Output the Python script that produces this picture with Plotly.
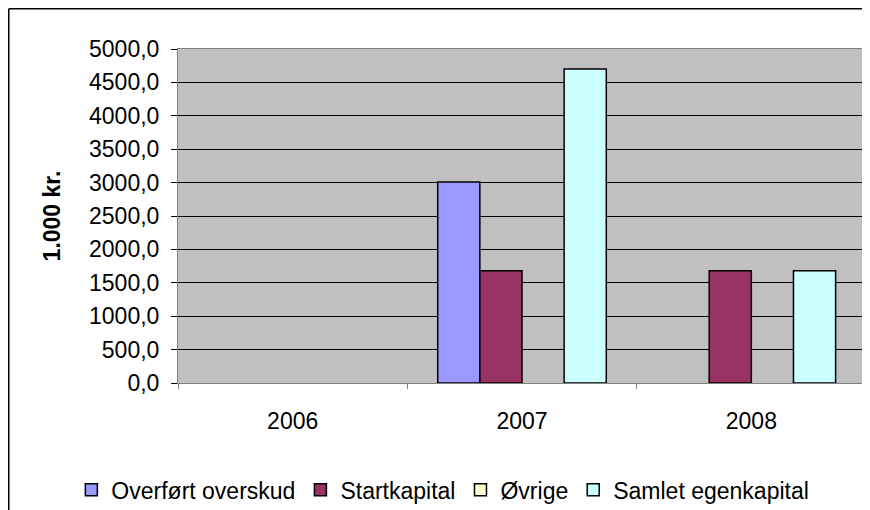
import plotly.graph_objects as go

aar = ["2006", "2007", "2008"]
overfoert = [None, 3010, None]
startkapital = [None, 1680, 1680]
oevrige = [None, None, None]
samlet = [None, 4700, 1680]

serier = [
    ("Overført overskud", overfoert, "#9999FF"),
    ("Startkapital", startkapital, "#993366"),
    ("Øvrige", oevrige, "#FFFFCC"),
    ("Samlet egenkapital", samlet, "#CCFFFF"),
]

fig = go.Figure()
for navn, vals, farve in serier:
    fig.add_trace(go.Bar(x=aar, y=vals, name=navn,
                         marker=dict(color=farve, line=dict(color="black", width=1.5))))

# siden har 8px body-margin, så figuren gøres 8px mindre
fig.update_layout(
    width=862, height=502,
    margin=dict(l=170, r=4, t=41, b=127, autoexpand=False),
    paper_bgcolor="white", plot_bgcolor="#C0C0C0",
    font=dict(family="Liberation Sans, Arial", size=23, color="black"),
    separators=",.",
    barmode="group", bargap=0.265, bargroupgap=0,
    legend=dict(orientation="h", x=-0.155, xanchor="left", y=-0.32, yanchor="middle",
                font=dict(size=23), itemwidth=30, tracegroupgap=0,
                bgcolor="rgba(0,0,0,0)"),
)
fig.update_yaxes(range=[0, 5000], dtick=500, tickformat=".1f",
                 gridcolor="black", gridwidth=1,
                 ticks="outside", ticklen=6, tickcolor="black",
                 ticklabelstandoff=7,
                 showline=True, linecolor="#808080", linewidth=1, mirror=True,
                 zeroline=False,
                 title=dict(text="<b>1.000 kr.</b>", font=dict(size=23), standoff=21))
fig.update_xaxes(tickson="boundaries", ticks="outside", ticklen=5, tickcolor="#808080",
                 ticklabelstandoff=17,
                 showline=True, linecolor="#808080", linewidth=1, mirror=True,
                 showgrid=False)

# ramme rundt om diagrammet
fig.add_shape(type="line", xref="paper", yref="paper",
              x0=-0.246, y0=1.1205, x1=-0.246, y1=-0.4, line=dict(color="black", width=1.5))
fig.add_shape(type="line", xref="paper", yref="paper",
              x0=-0.246, y0=1.1205, x1=1.01, y1=1.1205, line=dict(color="black", width=1.5))

fig.write_html("out.html")
